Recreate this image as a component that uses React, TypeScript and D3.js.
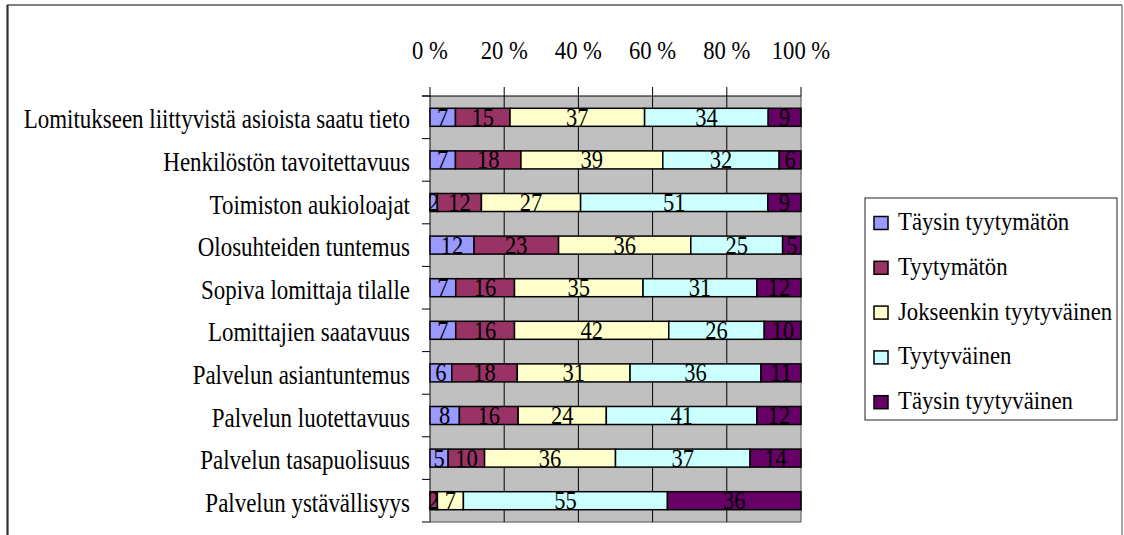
import React from "react";
import * as d3 from "d3";

const categories = [
  "Lomitukseen liittyvistä asioista saatu tieto",
  "Henkilöstön tavoitettavuus",
  "Toimiston aukioloajat",
  "Olosuhteiden tuntemus",
  "Sopiva lomittaja tilalle",
  "Lomittajien saatavuus",
  "Palvelun asiantuntemus",
  "Palvelun luotettavuus",
  "Palvelun tasapuolisuus",
  "Palvelun ystävällisyys",
];

const seriesNames = [
  "Täysin tyytymätön",
  "Tyytymätön",
  "Jokseenkin tyytyväinen",
  "Tyytyväinen",
  "Täysin tyytyväinen",
];

const taysinTyytymaton = [7, 7, 2, 12, 7, 7, 6, 8, 5, 0];
const tyytymaton = [15, 18, 12, 23, 16, 16, 18, 16, 10, 2];
const jokseenkin = [37, 39, 27, 36, 35, 42, 31, 24, 36, 7];
const tyytyvainen = [34, 32, 51, 25, 31, 26, 36, 41, 37, 55];
const taysinTyytyvainen = [9, 6, 9, 5, 12, 10, 11, 12, 14, 36];

const seriesValues = [taysinTyytymaton, tyytymaton, jokseenkin, tyytyvainen, taysinTyytyvainen];
const colors = ["#9999FF", "#993366", "#FFFFCC", "#CCFFFF", "#660066"];
const tickValues = [0, 0.2, 0.4, 0.6, 0.8, 1];

const FONT = "'Liberation Serif', 'Times New Roman', serif";

export default function App() {
  const x = d3.scaleLinear().domain([0, 1]).range([430, 801]);
  const y = d3
    .scaleBand<string>()
    .domain(categories)
    .range([96, 522])
    .paddingInner(0.577)
    .paddingOuter(0.2885);
  const step = y.step();

  const rows = categories.map((c, i) => {
    const vals = seriesValues.map((s) => s[i]);
    const total = d3.sum(vals);
    let acc = 0;
    return vals.map((v, k) => {
      const x0 = acc / total;
      acc += v;
      const x1 = acc / total;
      return { c, v, k, x0, x1 };
    });
  });

  const boundaries = d3.range(categories.length + 1).map((i) => 96 + i * step);

  return (
    <svg
      width={1124}
      height={535}
      style={{ position: "absolute", left: 0, top: 0, background: "#fff" }}
    >
      {/* outer frame */}
      <line x1={7} y1={5} x2={1122} y2={5} stroke="#000" strokeWidth={1.2} />
      <line x1={7.5} y1={5} x2={7.5} y2={535} stroke="#333" strokeWidth={2.2} />
      <line x1={1122} y1={5} x2={1122} y2={535} stroke="#888" strokeWidth={1.5} />

      {/* plot area */}
      <rect x={x(0)} y={96} width={x(1) - x(0)} height={426} fill="#C0C0C0" />
      <line x1={x(1)} y1={96} x2={x(1)} y2={522} stroke="#808080" strokeWidth={1.5} />
      <line x1={x(0)} y1={522} x2={x(1)} y2={522} stroke="#808080" strokeWidth={1.5} />
      {tickValues.slice(1, -1).map((t) => (
        <line key={t} x1={x(t)} y1={96} x2={x(t)} y2={522} stroke="#000" strokeWidth={1} />
      ))}

      {/* top axis */}
      <line x1={422} y1={96} x2={x(1)} y2={96} stroke="#000" strokeWidth={1} />
      {tickValues.map((t) => (
        <g key={t}>
          <line x1={x(t)} y1={87} x2={x(t)} y2={96} stroke="#000" strokeWidth={1} />
          <text
            transform={`translate(${x(t)},59) scale(0.87,1)`}
            textAnchor="middle"
            fontFamily={FONT}
            fontSize={26}
            fill="#000"
          >
            {`${Math.round(t * 100)} %`}
          </text>
        </g>
      ))}

      {/* left axis */}
      <line x1={x(0)} y1={96} x2={x(0)} y2={522} stroke="#000" strokeWidth={1} />
      {boundaries.map((b, i) => (
        <line key={i} x1={422} y1={b} x2={x(0)} y2={b} stroke="#000" strokeWidth={1} />
      ))}
      {categories.map((c) => {
        const cy = (y(c) as number) + y.bandwidth() / 2;
        return (
          <text
            key={c}
            transform={`translate(410,${cy + 11}) scale(0.82,1)`}
            textAnchor="end"
            fontFamily={FONT}
            fontSize={28}
            fill="#000"
          >
            {c}
          </text>
        );
      })}

      {/* bars */}
      {rows.map((segs, i) =>
        segs.map((s) =>
          s.v > 0 ? (
            <rect
              key={`${i}-${s.k}`}
              x={x(s.x0)}
              y={y(s.c) as number}
              width={x(s.x1) - x(s.x0)}
              height={y.bandwidth()}
              fill={colors[s.k]}
              stroke="#000"
              strokeWidth={1.5}
            />
          ) : null
        )
      )}
      {rows.map((segs, i) =>
        segs.map((s) =>
          s.v > 0 ? (
            <text
              key={`l${i}-${s.k}`}
              transform={`translate(${(x(s.x0) + x(s.x1)) / 2},${(y(s.c) as number) + y.bandwidth() / 2 + 8.5}) scale(0.9,1)`}
              textAnchor="middle"
              fontFamily={FONT}
              fontSize={25}
              fill="#000"
            >
              {s.v}
            </text>
          ) : null
        )
      )}

      {/* legend */}
      <rect x={865} y={198} width={252} height={222} fill="#fff" stroke="#222" strokeWidth={1} />
      {seriesNames.map((n, k) => {
        const cy = 223 + k * 44.8;
        return (
          <g key={n}>
            <rect x={874} y={cy - 6.5} width={14} height={13} fill={colors[k]} stroke="#000" strokeWidth={1.5} />
            <text
              transform={`translate(898,${cy + 7}) scale(0.91,1)`}
              fontFamily={FONT}
              fontSize={25}
              fill="#000"
            >
              {n}
            </text>
          </g>
        );
      })}
    </svg>
  );
}
